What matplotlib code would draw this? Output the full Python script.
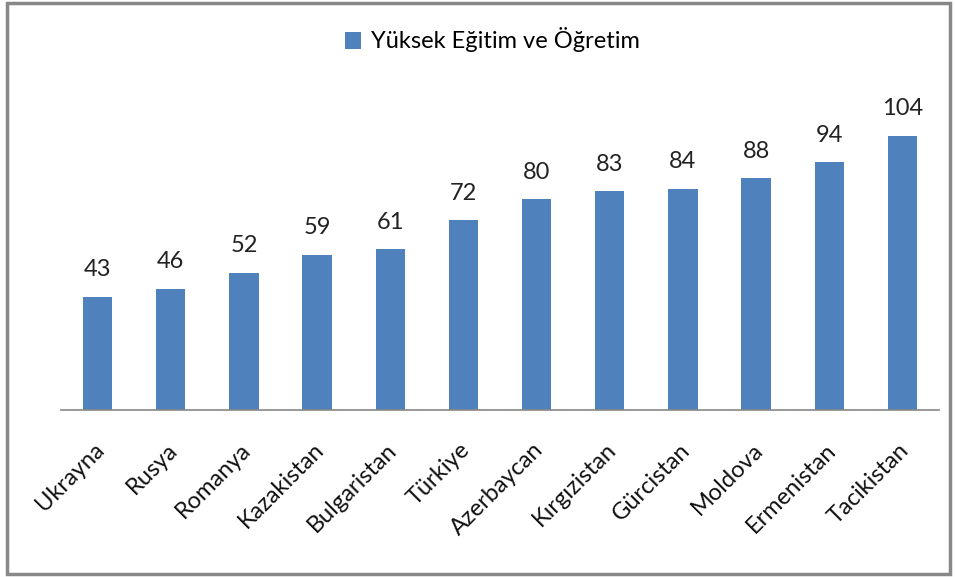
import matplotlib
matplotlib.use("Agg")
import matplotlib.pyplot as plt
from matplotlib.patches import Rectangle
import matplotlib.transforms as mtransforms

categories = ["Ukrayna", "Rusya", "Romanya", "Kazakistan", "Bulgaristan", "Türkiye",
              "Azerbaycan", "Kırgızistan", "Gürcistan", "Moldova", "Ermenistan", "Tacikistan"]
values = [43, 46, 52, 59, 61, 72, 80, 83, 84, 88, 94, 104]
series_name = "Yüksek Eğitim ve Öğretim"

plt.rcParams['font.family'] = ['Lato', 'DejaVu Sans']
color = "#4F81BD"

fig = plt.figure(figsize=(9.55, 5.77), dpi=100)
ax = fig.add_axes([61/955, 1-410/577, (939-61)/955, (410-94)/577])

x = list(range(len(categories)))
bars = ax.bar(x, values, width=0.4, color=color, label=series_name)
ax.set_xlim(-0.5, len(categories)-0.5)
ax.set_ylim(0, 120)
for xi, v in zip(x, values):
    ax.annotate(str(v), (xi, v), xytext=(0, 12), textcoords="offset points",
                ha="center", va="bottom", fontsize=17, color="#222222")

for s in ["top", "right", "left"]:
    ax.spines[s].set_visible(False)
ax.spines["bottom"].set_color("#888888")
ax.spines["bottom"].set_linewidth(1.2)
ax.set_yticks([])
ax.set_xticks(x)
ax.set_xticklabels(categories, rotation=45, ha="right", va="top",
                   rotation_mode="anchor", fontsize=17, color="#111111")
ax.tick_params(axis="x", length=0, pad=21)
offset = mtransforms.ScaledTranslation(-4/100, 0, fig.dpi_scale_trans)
for lbl in ax.get_xticklabels():
    lbl.set_transform(lbl.get_transform() + offset)

leg = fig.legend(handles=[bars], labels=[series_name], loc="center",
                 bbox_to_anchor=(492/955, 1-40/577), frameon=False, fontsize=17,
                 handlelength=0.7, handleheight=0.7, handletextpad=0.4)

fig.patches.append(Rectangle((7/955, 3/577), (950-7)/955, (574-3)/577,
                             transform=fig.transFigure, fill=False,
                             edgecolor="#888888", linewidth=2.5))

fig.savefig("out.png", dpi=100)
